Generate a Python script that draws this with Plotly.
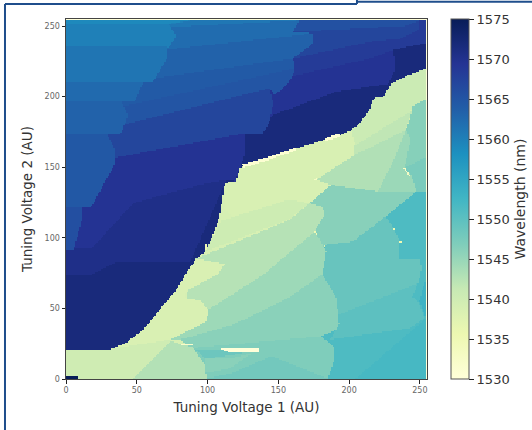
import numpy as np
import plotly.graph_objects as go

# Tick labels and axis text
axis_ticks = [0, 50, 100, 150, 200, 250]
colorbar_ticks = [1530, 1535, 1540, 1545, 1550, 1555, 1560, 1565, 1570, 1575]
x_title = "Tuning Voltage 1 (AU)"
y_title = "Tuning Voltage 2 (AU)"
colorbar_title = "Wavelength (nm)"
voltage_levels = list(range(256))

# The map is made of flat wavelength patches.
# Each patch: wavelength (nm) and its outline in (voltage 1, voltage 2). Later patches lie on top.
coast = [(255, 220), (242, 215), (230.3, 209.5), (224.4, 200), (217.3, 198.8), (214.8, 190.4), (207.7, 181),
         (201.8, 176.3), (193.6, 172.7), (163, 163.3), (139.4, 155), (130, 152.8), (123, 149), (120, 139.7),
         (112.3, 138.7), (108.8, 116), (104, 101.7), (99.4, 91), (92.3, 85), (86.4, 77), (78, 63), (68.8, 52),
         (54.6, 34.5), (41.7, 25), (31, 20.8), (0, 20.8), (0, 0), (255, 0)]

upper_wavelengths = [1571.7, 1570.5, 1569.5, 1569.5, 1568.5, 1567.0, 1565.5, 1567.0, 1565.0, 1564.3, 1563.3, 1562.2,
                     1561.0, 1560.0, 1561.2, 1562.4, 1563.3, 1564.5, 1565.8, 1559.0]
upper_outlines = [
    [(0, 0), (255, 0), (255, 255), (0, 255)],
    [(0, 73.6), (17, 73), (36, 83), (88, 83), (113.5, 141), (94.7, 137.5), (47.6, 124.5), (19, 93), (0, 92)],
    [(0, 92), (19, 93), (47.6, 124.5), (94.7, 137.5), (113.5, 141), (120, 139.7), (121.7, 146.8), (126.5, 158.6),
     (126.5, 174), (0, 150)],
    [(126.5, 172.7), (146.5, 187), (191, 203.4), (228, 209), (233, 220), (231.5, 233), (255, 238), (255, 255),
     (0, 255), (0, 172.7)],
    [(163, 215), (214.8, 227), (231.5, 233), (255, 238), (255, 255), (100, 255), (100, 205)],
    [(160.6, 227), (214.8, 238.8), (237, 241), (249, 247), (250, 255), (100, 255), (100, 220)],
    [(160.6, 246), (240, 250), (250, 254), (250, 255), (165.3, 255)],
    [(0, 150), (126.5, 174), (139.4, 174), (144, 182), (146.5, 195), (144, 205.8), (0, 172)],
    [(0, 170), (144, 205.8), (147.6, 201), (156, 208), (161.8, 217.6), (160.6, 228), (54.6, 214), (0, 206)],
    [(0, 184), (161.8, 220), (160.6, 228), (0, 206)],
    [(0, 204), (160.6, 227), (174.7, 237.6), (174.7, 244.7), (75, 235), (0, 235)],
    [(70, 233), (174.7, 244.7), (160.6, 246), (165.3, 255), (60, 255)],
    [(70, 249), (163, 254), (165, 255), (70, 255)],
    [(0, 235), (73, 235), (78, 243), (73, 251), (92, 255), (0, 255)],
    [(0, 211), (62, 211), (71, 226), (72, 236), (0, 236)],
    [(0, 197), (49, 197), (55, 211), (0, 211)],
    [(0, 174), (39, 174), (44, 187), (39, 197), (0, 197)],
    [(0, 122), (18, 122), (35, 153), (35, 162), (29, 174), (0, 174)],
    [(0, 92), (5.5, 92), (12, 115), (12, 122), (0, 122)],
    [(0, 252), (75, 252), (92, 255), (0, 255)],
]

lower_wavelengths = [1539.0, 1538.8, 1540.3, 1551.3, 1549.0, 1550.0, 1552.0, 1553.0, 1546.2, 1547.3, 1546.3, 1544.7,
                     1543.0, 1540.6, 1541.8, 1542.6, 1544.5, 1546.0, 1538.6, 1540.0, 1542.8, 1546.9, 1546.0, 1548.0,
                     1548.5]
lower_outlines = [
    coast,
    [(201.8, 176.3), (202.8, 172), (204.5, 165.7), (204, 158.6), (176.9, 140.9), (187.5, 137.4), (181.6, 130.3),
     (172.2, 124.4), (158, 112.6), (130, 101), (112, 121), (112.3, 138.7), (120, 139.7), (123, 149), (130, 152.8),
     (139.4, 155), (163, 163.3), (193.6, 172.7)],
    [(98, 90), (158, 113), (172.2, 124.4), (158, 127), (110, 112), (104, 101.7)],
    [(175, 0), (255, 0), (255, 135), (248, 133.5), (226.3, 115), (175, 90)],
    [(184, 94.9), (202.8, 97.3), (226.3, 115), (231.5, 106.7), (236, 97), (236, 84.2), (250.3, 84.2), (251.5, 78.3),
     (249, 67.7), (193, 45.3), (193, 40.6), (181.3, 74.1)],
    [(186.7, 27.6), (243.2, 35.9), (253.8, 43), (249, 54.7), (245, 58), (249, 67.7), (193, 45.3), (193, 38)],
    [(205, 0), (243.2, 33), (255, 43), (255, 0)],
    [(255, 42), (250, 55), (252, 62), (255, 72)],
    [(172.2, 124.4), (187.5, 137.4), (220.5, 134), (248.7, 133.5), (226.3, 115), (202.8, 97.3), (184, 94.9),
     (180, 92), (174, 104), (178, 108), (182.8, 116.1), (181.6, 121.6)],
    [(248, 132), (244, 144.5), (239.3, 149.2), (248.7, 153.9), (255, 157.4), (255, 133)],
    [(245, 193), (255, 198), (255, 157.4), (248.7, 153.9), (239.3, 149.2), (244, 170), (240.5, 176.3), (243, 183)],
    [(220.5, 132.7), (248, 132), (244, 144.5), (239.3, 149.2), (244, 170), (240.5, 176.3), (232, 155)],
    [(176.9, 140.9), (187.5, 137.4), (220.5, 132.7), (232, 155), (240.5, 176.3), (204, 158.6)],
    [(207.7, 181), (214.8, 190.4), (217.3, 198.8), (224.4, 200), (230.3, 209.5), (242, 215), (255, 220), (255, 198),
     (245, 193), (239.3, 177.5), (204, 158.6), (204.5, 165.7), (202.8, 172), (201.8, 176.3)],
    [(204, 158.6), (240, 176), (245, 190), (225, 178), (204, 165)],
    [(92, 85), (158, 112.6), (172.2, 124.4), (181.6, 121.6), (182.8, 116.1), (178, 108), (176, 104.3), (139.4, 73.6),
     (100.5, 48.8), (85, 57)],
    [(100.5, 48.8), (139.4, 73.6), (176, 104.3), (184.1, 90.1), (181.3, 74.1), (157, 57.1), (118.2, 38.2),
     (80.5, 27.6), (73.5, 27.6), (99.4, 40.6)],
    [(80.5, 27.6), (118.2, 38.2), (157, 57.1), (181.3, 74.1), (191.2, 57.1), (193.1, 38.2), (191.2, 34.7),
     (180.6, 30), (153.5, 22.2), (137, 21.7), (106.4, 22.9), (88.8, 21.7)],
    [(92.3, 85), (112.3, 81.2), (107.6, 74.1), (86.4, 63), (84, 59.5), (85.2, 57), (95.8, 55.2), (100.5, 47.7),
     (99.4, 40.6), (73.5, 27.6), (45, 21.7), (31, 20.8), (41.7, 25), (54.6, 34.5), (68.8, 52), (78, 63), (86.4, 77)],
    [(0, 0), (0, 20.8), (31, 20.8), (73.5, 27.6), (74.7, 26.7), (47.6, 0)],
    [(47.6, 0), (74.7, 26.7), (90, 21.7), (98.2, 9.9), (99.4, 0)],
    [(90, 21.7), (180.6, 30), (188.9, 22.9), (190, 14.6), (185.3, 0), (99.4, 0), (98.2, 9.9)],
    [(98.2, 14), (120, 15), (132, 18), (115, 7), (99, 4)],
    [(99.4, 0), (118, 4), (145, 16), (185.3, 0)],
    [(92, 20), (137, 21), (120, 17), (98.2, 14)],
]

# Near-white slivers
sliver_wavelengths = [1530.0, 1531.0, 1531.0, 1533.0, 1532.0, 1533.0, 1535.0, 1535.0, 1535.0, 1575.0, 1535.0, 1535.0]
sliver_outlines = [
    [(107.6, 21.7), (137, 21.7), (135.9, 18.2), (115.9, 18.2)],
    [(125, 152), (139.4, 156), (163, 164), (163, 161.8), (139, 153.6), (126, 149.8)],
    [(183, 170.5), (193.6, 174), (193, 171.3), (184, 168.6)],
    [(238.5, 149.6), (240, 149.6), (243.5, 144), (243, 143.5)],
    [(81.7, 24.6), (90, 24.2), (90, 23.2), (81.7, 23.6)],
    [(175, 141.4), (177, 142.2), (177.2, 141), (175.2, 140.2)],
    [(175.5, 105), (176.6, 105), (177.6, 102), (176.5, 102)],
    [(231, 107), (232.2, 107), (232.4, 106), (231.2, 106)],
    [(236, 97.6), (237.2, 97.6), (237.2, 96.4), (236, 96.4)],
    [(0, 0), (9, 0), (9, 1.6), (0, 1.6)],
    [(103.5, 102.6), (105.2, 102.6), (105, 101.4), (103.7, 101.4)],
    [(98.5, 96), (99.6, 96), (99.4, 92), (98.2, 92)],
]

colorscale_colors = ["#ffffd9", "#edf8b1", "#c7e9b4", "#7fcdbb", "#41b6c4", "#1d91c0", "#225ea8", "#253494", "#081d58"]


def inside(outline, xx, yy):
    px = np.array([p[0] for p in outline], float)
    py = np.array([p[1] for p in outline], float)
    hit = np.zeros(xx.shape, bool)
    for i in range(len(px)):
        j = i - 1
        crosses = (py[i] > yy) != (py[j] > yy)
        with np.errstate(divide="ignore", invalid="ignore"):
            edge = (px[j] - px[i]) * (yy - py[i]) / (py[j] - py[i]) + px[i]
        hit ^= crosses & (xx < edge)
    return hit


xx, yy = np.meshgrid(np.array(voltage_levels, float), np.array(voltage_levels, float))
z = np.zeros(xx.shape)
for values, outlines in [
    (upper_wavelengths, upper_outlines),
    (lower_wavelengths, lower_outlines),
    (sliver_wavelengths, sliver_outlines),
]:
    for value, outline in zip(values, outlines):
        z[inside(outline, xx, yy)] = value

n = len(colorscale_colors) - 1
fig = go.Figure(go.Heatmap(
    x=voltage_levels, y=voltage_levels, z=z.round(1).tolist(),
    zmin=1530, zmax=1575,
    colorscale=[[i / n, c] for i, c in enumerate(colorscale_colors)],
    zsmooth=False,
    colorbar=dict(
        x=1.066, xanchor="left", xpad=0, y=0.5, yanchor="middle", ypad=0,
        lenmode="fraction", len=1, thickness=18,
        tickvals=colorbar_ticks, ticks="outside", ticklen=5, tickwidth=1, tickcolor="#222",
        tickfont=dict(family="DejaVu Sans", size=13, color="#333"),
        outlinecolor="#555", outlinewidth=1,
        title=dict(text=colorbar_title, side="right", font=dict(family="DejaVu Sans", size=14, color="#333")),
    ),
))

axis_style = dict(
    tickvals=axis_ticks, ticks="outside", ticklen=3.5, tickwidth=1, tickcolor="#222",
    tickfont=dict(family="DejaVu Sans", size=8, color="#666"),
    showgrid=False, zeroline=False, showline=True, linecolor="#444", linewidth=1, mirror=True,
)
frame = "#1f4e8c"
fig.update_layout(
    width=532, height=430, autosize=False,
    margin=dict(l=66, r=105, t=19, b=51, autoexpand=False),
    paper_bgcolor="white", plot_bgcolor="white",
    xaxis=dict(range=[0, 255],
               title=dict(text=x_title, font=dict(family="DejaVu Sans", size=13.5, color="#333"), standoff=8),
               **axis_style),
    yaxis=dict(range=[0, 255],
               title=dict(text=y_title, font=dict(family="DejaVu Sans", size=13.5, color="#333"), standoff=8),
               **axis_style),
    shapes=[
        dict(type="line", xref="paper", yref="paper", x0=-0.169, x1=-0.169, y0=-0.142, y1=1.0417,
             line=dict(color=frame, width=2)),
        dict(type="line", xref="paper", yref="paper", x0=-0.169, x1=0.806, y0=1.0417, y1=1.0417,
             line=dict(color=frame, width=2)),
        dict(type="line", xref="paper", yref="paper", x0=0.806, x1=0.806, y0=1.0417, y1=1.053,
             line=dict(color=frame, width=2)),
        dict(type="line", xref="paper", yref="paper", x0=0.806, x1=1.291, y0=1.048, y1=1.048,
             line=dict(color=frame, width=2)),
    ],
)
fig.write_html("out.html", config={"displayModeBar": False}, post_script="document.body.style.margin='0';")
